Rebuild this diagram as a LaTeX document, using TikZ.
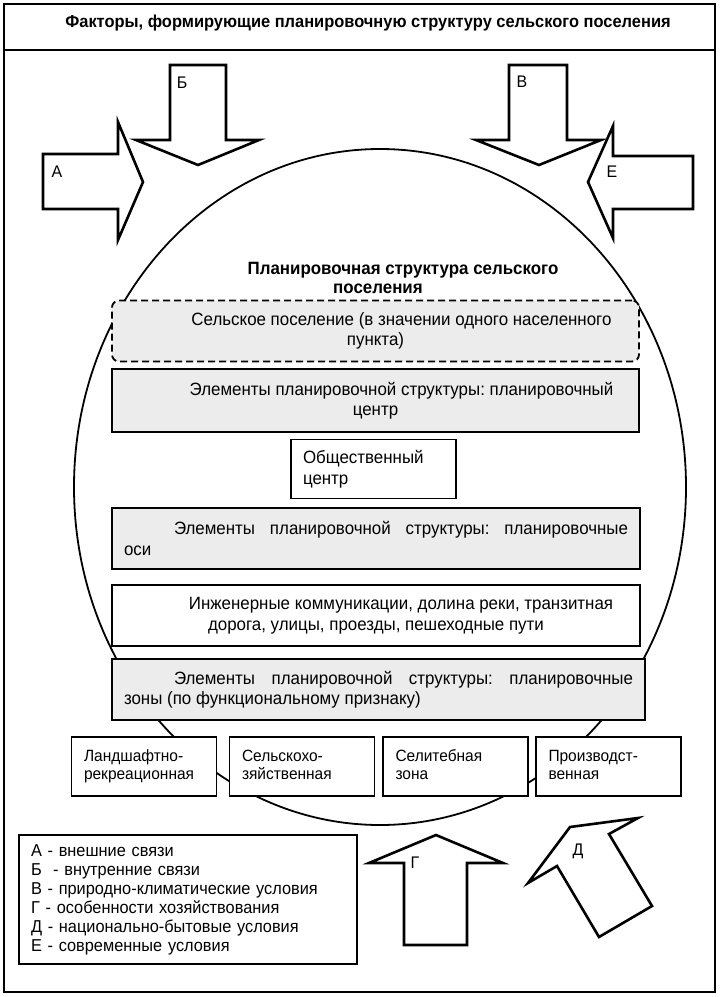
\documentclass[tikz,border=0pt]{standalone}
\usepackage{fontspec}
\setmainfont[FakeStretch=0.95]{Liberation Sans}
\usepackage{tikz}
\usepackage{xcolor}
\definecolor{boxgray}{RGB}{236,236,236}

\begin{document}
\frenchspacing
\begin{tikzpicture}[x=1pt, y=-1pt,
    every node/.style={inner sep=0pt, font=\fontsize{17.8}{20.5}\selectfont},
    greybox/.style={draw, line width=1.8pt, fill=boxgray, minimum width=527pt, minimum height=61pt},
    whitebox/.style={draw, line width=1.8pt, fill=white, minimum width=528pt, minimum height=61pt},
    zonebox/.style={draw, line width=1.6pt, fill=white, minimum width=145pt, minimum height=59pt,
        text width=120pt, align=left, font=\fontsize{16.3}{18}\selectfont,
        execute at begin node=\strut, execute at end node=\strut},
    blockarrow/.style={draw, line width=2.6pt, fill=white, line join=miter},
    letter/.style={font=\fontsize{16.8}{18}\selectfont}]
    \useasboundingbox (0,0) rectangle (720,997);

    % Frame
    \draw[line width=2.2pt] (4,4) rectangle (715,50);
    \draw[line width=2.2pt] (4,50) rectangle (715,992);
    \node[font=\bfseries\fontsize{17.3}{20}\selectfont] (title) at (368,23)
        {Факторы, формирующие планировочную структуру сельского поселения};

    % Settlement outline
    \draw[line width=1.8pt] (380,487) ellipse [x radius=306pt, y radius=338pt];
    \node[font=\bfseries\fontsize{17.8}{19}\selectfont, align=center] (heading) at (378,277.5)
        {\hspace*{50pt}Планировочная структура сельского\\поселения};

    % Structure boxes
    \node[greybox, dashed, dash pattern=on 7pt off 4pt, rounded corners=7pt, align=center] (settle) at (375.5,331)
        {\hspace*{52pt}Сельское поселение (в значении одного населенного\\пункта)};
    \node[greybox, minimum height=63pt, align=center] (plcenter) at (375.5,400.5)
        {\hspace*{52pt}Элементы планировочной структуры: планировочный\\центр};
    \node[draw, line width=1.8pt, fill=white, minimum width=165pt, minimum height=59pt,
        text width=141pt, align=left] (pubcenter) at (373.5,469)
        {Общественный\\центр};
    \node[greybox, minimum width=528pt, text width=504pt, align=justify] (axes) at (376,538.5)
        {\noindent\hspace*{50pt}Элементы планировочной структуры: планировочные\linebreak оси};
    \node[whitebox, align=center] (engin) at (376,615.5)
        {\hspace*{50pt}Инженерные коммуникации, долина реки, транзитная\\дорога, улицы, проезды, пешеходные пути};
    \node[greybox, minimum width=533pt, text width=509pt, align=justify] (zones) at (378.5,689.5)
        {\noindent\hspace*{50pt}Элементы планировочной структуры: планировочные\linebreak зоны (по функциональному признаку)};

    % Functional zones
    \node[zonebox] (landsc) at (144,766.5) {Ландшафтно-\\рекреационная};
    \node[zonebox] (agric) at (302,766.5) {Сельскохо-\\зяйственная};
    \node[zonebox] (resid) at (455.5,766.5) {Селитебная\\зона};
    \node[zonebox] (indust) at (608.5,766.5) {Производст-\\венная};

    % Factor arrows
    \draw[blockarrow] (43,154) -- (118,154) -- (118,122) -- (143,182) -- (118,240) -- (118,209) -- (43,209) -- cycle;
    \draw[blockarrow] (170,65) -- (226,65) -- (226,140) -- (259,140) -- (198,165) -- (136,140) -- (170,140) -- cycle;
    \draw[blockarrow] (509,65) -- (567,65) -- (567,140) -- (601,140) -- (539,165) -- (476,140) -- (509,140) -- cycle;
    \draw[blockarrow] (693,156) -- (613,156) -- (613,126) -- (588,182) -- (613,238) -- (613,209) -- (693,209) -- cycle;
    \draw[blockarrow] (404,945) -- (404,863) -- (369,863) -- (436,835) -- (503,863) -- (467,863) -- (467,945) -- cycle;
    \draw[blockarrow] (599,937) -- (557,866) -- (528,883) -- (570,827) -- (638,818) -- (609,834) -- (652,906) -- cycle;
    \node[letter] (fa) at (57,172) {А};
    \node[letter] (fb) at (182,83) {Б};
    \node[letter] (fv) at (522,82) {В};
    \node[letter] (fe) at (612,172) {Е};
    \node[letter] (fg) at (415,863) {Г};
    \node[letter] (fd) at (578,851) {Д};

    % Legend
    \node[draw, line width=1.8pt, minimum width=338pt, minimum height=129pt, text width=314pt,
        align=left, font=\fontsize{17.2}{19}\selectfont] (legend) at (188,899.5)
        {А - внешние связи\\Б~ - внутренние связи\\В - природно-климатические условия\\Г - особенности хозяйствования\\Д - национально-бытовые условия\\Е - современные условия};
\end{tikzpicture}
\end{document}
